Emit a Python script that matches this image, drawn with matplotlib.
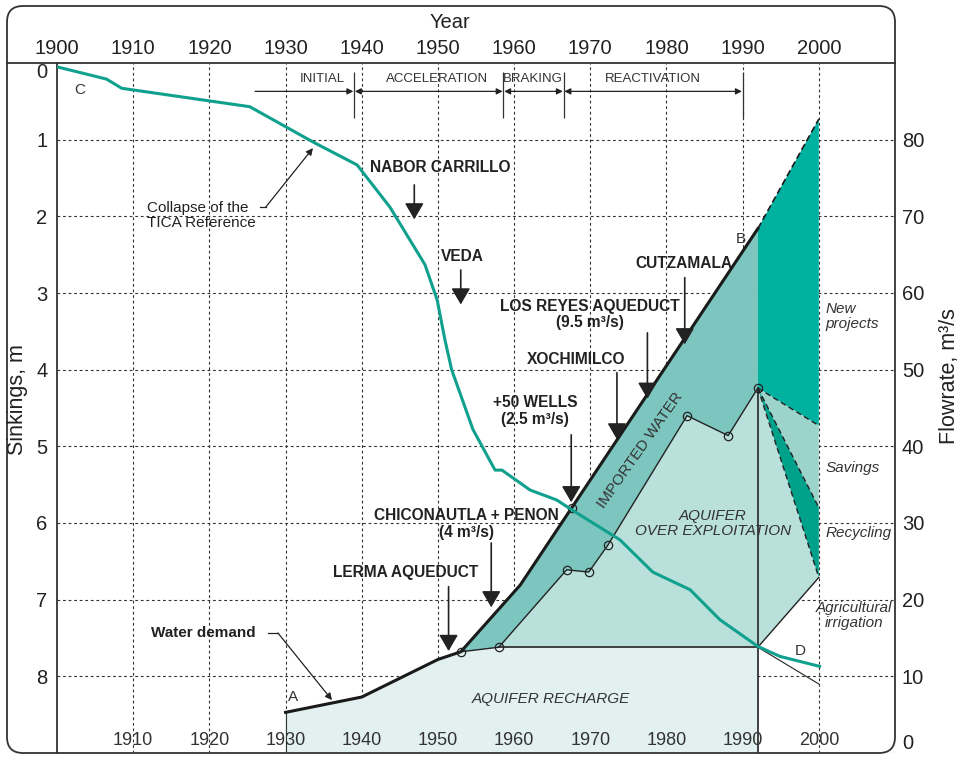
import numpy as np
import matplotlib.pyplot as plt
from matplotlib.patches import FancyBboxPatch
from matplotlib.lines import Line2D

plt.rcParams['font.family'] = ['Liberation Sans', 'DejaVu Sans']

# ground sinking curve (year, m)
sink_years = [1900, 1906.5, 1908.5, 1925.3, 1933.6, 1939.4, 1943.7, 1948.3, 1949.9,
              1950.9, 1951.8, 1954.6, 1957.5, 1958.4, 1962.1, 1965.6, 1967.6, 1973.9,
              1978.2, 1983.1, 1987.0, 1992.0, 1994.9, 2000.1]
sink_m = [0.05, 0.21, 0.33, 0.57, 1.03, 1.33, 1.88, 2.63, 3.09,
          3.6, 4.0, 4.78, 5.31, 5.31, 5.57, 5.70, 5.83, 6.22,
          6.64, 6.87, 7.26, 7.61, 7.74, 7.87]

# water demand (m3/s)
demand_years = [1930, 1940, 1950, 1953, 1960.8, 1992]
demand_flow = [5.3, 7.3, 12.2, 13.2, 21.9, 68.4]
proj_years = [1992, 2000]
proj_flow = [68.4, 82.7]

# aquifer extraction points
wells_years = [1953, 1958, 1966.9, 1969.8, 1972.3, 1982.7, 1988.1, 1992]
wells_flow = [13.2, 13.8, 23.9, 23.6, 27.1, 44.0, 41.4, 47.6]
recharge_flow = 13.8

# split of the 2000 supply
new_low_2000 = 42.7
savings_low_2000 = 32.0
recycling_low_2000 = 22.9
d_line_2000 = 9.0

# the +50 wells point on the demand line
wells50_year, wells50_flow = 1967.6, 32.0

phase_names = ['INITIAL', 'ACCELERATION', 'BRAKING', 'REACTIVATION']
phase_bounds = [1939.0, 1958.6, 1966.5, 1990.0]
phase_label_x = [1934.8, 1949.9, 1962.5, 1978.2]
initial_start = 1926.0

# (label, text x, text y, arrow x, arrow from, arrow to)
events = [
    ('NABOR CARRILLO', 1950.3, 76.4, 1946.9, 74.1, 69.6),
    ('VEDA', 1953.2, 64.7, 1953.0, 63.0, 58.5),
    ('CUTZAMALA', 1982.3, 63.9, 1982.4, 62.0, 53.3),
    ('LOS REYES AQUEDUCT\n(9.5 m³/s)', 1970.0, 57.2, 1977.5, 54.8, 46.2),
    ('XOCHIMILCO', 1968.1, 51.3, 1973.5, 49.6, 40.9),
    ('+50 WELLS\n(2.5 m³/s)', 1962.8, 44.6, 1967.5, 41.5, 32.7),
    ('CHICONAUTLA + PENON\n(4 m³/s)', 1953.7, 29.9, 1957.0, 27.4, 19.0),
    ('LERMA AQUEDUCT', 1945.7, 23.6, 1951.4, 21.7, 13.3),
]

teal = '#10a08e'
c_recharge = '#e2f1ef'
c_over = '#b9e0db'
c_import = '#7cc6bf'
c_new = '#00b1a0'
c_sav = '#9cd4cc'
c_rec = '#00a18b'
ink = '#222222'

fig = plt.figure(figsize=(9.66, 7.6), dpi=100)
ax = fig.add_axes([57/966, 7/760, 838/966, 690/760])
ax2 = ax.twinx()

ax.set_xlim(1900, 2010)
ax.set_ylim(0, 90)
ax2.set_ylim(9, 0)

ax.set_xticks(range(1910, 2001, 10))
ax.set_yticks(range(0, 81, 10))
ax.set_axisbelow(True)
ax.grid(True, color='#333333', ls=(0, (2.5, 2.5)), lw=0.8)
ax.yaxis.tick_right()
ax.tick_params(axis='y', length=0, pad=5, labelsize=14.5, labelcolor=ink)
ax.tick_params(axis='x', length=0, labelbottom=False)
ax.yaxis.get_major_ticks()[0].label2.set_verticalalignment('bottom')

ax2.yaxis.tick_left()
ax2.set_yticks(range(0, 9))
ax2.tick_params(axis='y', length=0, pad=7, labelsize=14.5, labelcolor=ink)
ax2.yaxis.get_major_ticks()[0].label1.set_verticalalignment('top')
ax2.xaxis.set_visible(True)
ax2.tick_params(axis='x', length=0, pad=-15, labelsize=13, labelcolor='#333333')

sec = ax.secondary_xaxis('top')
sec.set_xticks(range(1900, 2001, 10))
sec.tick_params(length=0, pad=3.5, labelsize=14.5, labelcolor=ink)
for a in (ax, ax2, sec):
    for s in a.spines.values():
        s.set_visible(False)
ax.spines['left'].set_visible(True)
ax.spines['left'].set_linewidth(1.3)
ax.spines['left'].set_color('#333333')

# filled regions
ax.fill([1930] + demand_years[:4] + [1958, 1992, 1992],
        [0] + demand_flow[:4] + [recharge_flow, recharge_flow, 0],
        color=c_recharge, lw=0, zorder=1)
ax.fill(wells_years + [2000, 1992, 1958],
        wells_flow + [recycling_low_2000, recharge_flow, recharge_flow],
        color=c_over, lw=0, zorder=1)
ax.fill(demand_years[3:] + wells_years[::-1],
        demand_flow[3:] + wells_flow[::-1], color=c_import, lw=0, zorder=1)
ax.fill(proj_years + [2000, 1992], proj_flow + [new_low_2000, wells_flow[-1]],
        color=c_new, lw=0, zorder=1)
ax.fill([1992, 2000, 2000], [wells_flow[-1], new_low_2000, savings_low_2000],
        color=c_sav, lw=0, zorder=1)
ax.fill([1992, 2000, 2000], [wells_flow[-1], savings_low_2000, recycling_low_2000],
        color=c_rec, lw=0, zorder=1)

# lines
ax.plot(demand_years, demand_flow, color='#1a1a1a', lw=2.2, zorder=4)
ax.plot(proj_years, proj_flow, color='#1a1a1a', lw=1.2, ls=(0, (4, 2)), zorder=4)
ax.plot(wells_years, wells_flow, color=ink, lw=1.0, marker='o', ms=6,
        mfc='none', mec=ink, mew=0.9, zorder=4)
ax.plot([1958, 1992], [recharge_flow, recharge_flow], color='#333333', lw=1.3, zorder=3)
ax.plot([1992, 1992], [0, wells_flow[-1]], color='#333333', lw=1.3, zorder=3)
ax.plot([1930, 1930], [0, demand_flow[0]], color='#333333', lw=0.8, zorder=3)
for v in (new_low_2000, savings_low_2000, recycling_low_2000):
    ax.plot([1992, 2000], [wells_flow[-1], v], color=ink, lw=1.0,
            ls=(0, (4, 2.5)), zorder=3)
ax.plot([1992, 2000], [recharge_flow, recycling_low_2000], color=ink, lw=1.0, zorder=3)
ax.plot([1992, 2000], [recharge_flow, d_line_2000], color=ink, lw=0.8, zorder=3)
ax.plot([wells50_year], [wells50_flow], 'o', ms=6, mfc='none', mec=ink, mew=0.9, zorder=4)

# sinking curve
ax2.plot(sink_years, sink_m, color=teal, lw=2.2, zorder=3)

# phases
ax.vlines(phase_bounds, 82.8, 88.8, color='#333333', lw=0.9)
arrow_small = dict(color='#222222', lw=0.9, shrinkA=0, shrinkB=0, mutation_scale=9)
ax.annotate('', xy=(phase_bounds[0] - 0.1, 86.3), xytext=(initial_start, 86.3),
            arrowprops=dict(arrowstyle='-|>', **arrow_small))
for i in range(3):
    ax.annotate('', xy=(phase_bounds[i + 1] - 0.1, 86.3),
                xytext=(phase_bounds[i] + 0.1, 86.3),
                arrowprops=dict(arrowstyle='<|-|>', **arrow_small))
for name, x in zip(phase_names, phase_label_x):
    ax.text(x, 87.9, name, ha='center', va='center', fontsize=9.5, color='#333333')

# events
for label, tx, ty, axx, y0, y1 in events:
    ax.text(tx, ty, label, ha='center', va='center', fontsize=11.2, fontweight='bold',
            color=ink, linespacing=1.15, zorder=6)
    ax.annotate('', xy=(axx, y1), xytext=(axx, y0),
                arrowprops=dict(arrowstyle='-|>,head_length=0.55,head_width=0.32',
                                color=ink, lw=1.2, shrinkA=0, shrinkB=0,
                                mutation_scale=18), zorder=6)

# leaders
ax.text(1911.8, 70.1, 'Collapse of the\nTICA Reference', ha='left', va='center',
        fontsize=11, color=ink, linespacing=1.15)
ax.plot([1926.6, 1927.4], [71.2, 71.2], color=ink, lw=0.9)
ax.annotate('', xy=(1933.6, 78.9), xytext=(1927.4, 71.2),
            arrowprops=dict(arrowstyle='-|>', color=ink, lw=0.9, shrinkA=0, shrinkB=0,
                            mutation_scale=10))
ax.text(1919.2, 15.65, 'Water demand', ha='center', va='center', fontsize=11,
        fontweight='bold', color=ink)
ax.plot([1927.7, 1929.0], [15.65, 15.65], color=ink, lw=0.9)
ax.annotate('', xy=(1936.1, 6.9), xytext=(1929.0, 15.65),
            arrowprops=dict(arrowstyle='-|>', color=ink, lw=0.9, shrinkA=0, shrinkB=0,
                            mutation_scale=10))

# region labels
ax.text(1976.6, 39.5, 'IMPORTED WATER', rotation=55, ha='center', va='center',
        fontsize=11, color='#333333', zorder=6)
ax.text(1986.1, 29.9, 'AQUIFER\nOVER EXPLOITATION', ha='center', va='center',
        fontsize=11, style='italic', color='#333333', linespacing=1.05, zorder=6)
ax.text(1964.8, 7.0, 'AQUIFER RECHARGE', ha='center', va='center', fontsize=11,
        style='italic', color='#333333', zorder=6)
ax.text(2000.9, 56.9, 'New\nprojects', ha='left', va='center', fontsize=11,
        style='italic', color='#333333', linespacing=1.1)
ax.text(2000.9, 37.2, 'Savings', ha='left', va='center', fontsize=11,
        style='italic', color='#333333')
ax.text(2000.9, 28.7, 'Recycling', ha='left', va='center', fontsize=11,
        style='italic', color='#333333')
ax.text(2004.6, 17.9, 'Agricultural\nirrigation', ha='center', va='center',
        fontsize=11, style='italic', color='#333333', linespacing=1.1)
for letter, lx, ly in [('C', 1903.0, 86.5), ('B', 1989.75, 67.0),
                       ('A', 1931.0, 7.3), ('D', 1997.5, 13.3)]:
    ax.text(lx, ly, letter, ha='center', va='center', fontsize=11, color='#333333', zorder=6)

# frame
frame = FancyBboxPatch((0.07, 0.07), 8.88, 7.47,
                       boxstyle='round,pad=0,rounding_size=0.16',
                       transform=fig.dpi_scale_trans, fill=False, lw=1.3, ec='#333333')
fig.add_artist(frame)
fig.add_artist(Line2D([0.07, 8.95], [6.97, 6.97], transform=fig.dpi_scale_trans,
                      lw=1.3, color='#333333'))

fig.text(450/966, 1 - 22/760, 'Year', ha='center', va='center', fontsize=14.5, color=ink)
fig.text(18/966, 1 - 400/760, 'Sinkings, m', rotation=90, ha='center', va='center',
         fontsize=15.5, color=ink)
fig.text(950/966, 1 - 376/760, 'Flowrate, m³/s', rotation=90, ha='center',
         va='center', fontsize=15.5, color=ink)

fig.savefig('out.png', dpi=100)
